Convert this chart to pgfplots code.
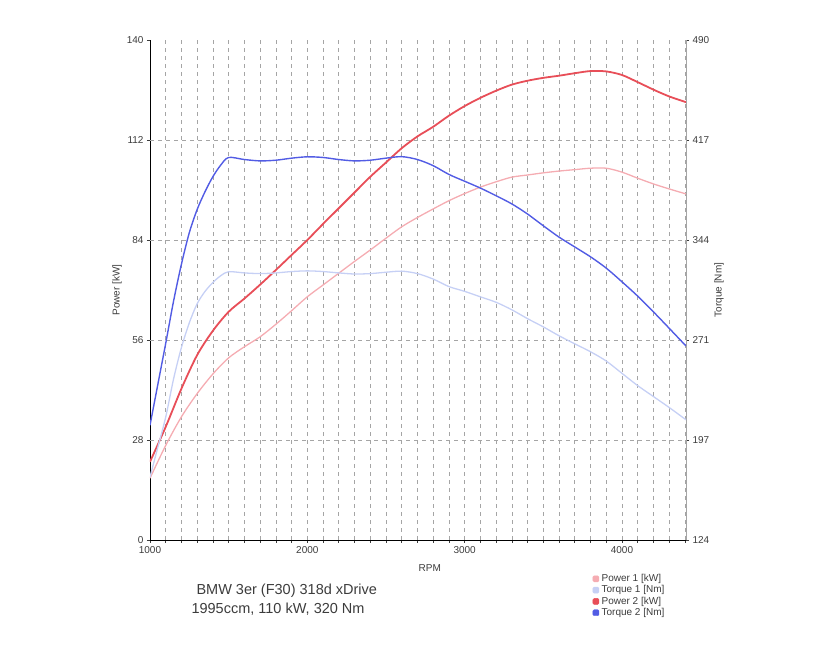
\documentclass[border=0pt]{standalone}
\usepackage{fontspec}
\setmainfont{Liberation Sans}
\usepackage{pgfplots}
\pgfplotsset{compat=1.18}
\definecolor{pone}{RGB}{245,172,178}
\definecolor{tone}{RGB}{198,208,245}
\definecolor{ptwo}{RGB}{232,78,88}
\definecolor{ttwo}{RGB}{82,92,228}
\definecolor{txt}{RGB}{60,60,60}
\definecolor{gridc}{RGB}{165,165,165}
\begin{document}
\begin{tikzpicture}
\path[use as bounding box] (-150pt,-110pt) rectangle (680pt,540pt);
\pgfplotsset{
  common/.style={
    at={(0pt,0pt)}, anchor=south west, scale only axis,
    width=536pt, height=500pt,
    xmin=1000, xmax=4407,
    /pgf/number format/assume math mode=true,
    tick label style={font=\fontsize{10}{12}\selectfont, text=txt},
    label style={font=\fontsize{10}{12}\selectfont, text=txt},
    tick align=outside, major tick length=3pt, minor tick length=3pt,
    tick style={txt, line width=0.6pt},
  }
}
\begin{axis}[common,
  ymin=0, ymax=140,
  axis y line*=left, axis x line*=bottom,
  axis line style={black, line width=0.8pt, -},
  xtick={1000,2000,3000,4000},
  minor xtick={1100,1200,...,4400},
  ytick={0,28,56,84,112,140},
  xmajorgrids, xminorgrids,
  grid style={gridc, dash pattern=on 4pt off 4pt, line width=0.6pt},
  extra y ticks={28,56,84,112},
  extra y tick labels={},
  extra y tick style={grid=major, major tick length=0pt},
  xticklabel style={/pgf/number format/1000 sep={}},
  xlabel={RPM},
  xlabel style={at={(axis description cs:0.522,-0.056)}, anchor=center},
  ylabel={Power [kW]},
  ylabel style={at={(axis description cs:-0.0616,0.5)}, anchor=center},
]
% Power 1 [kW]
\addplot[pone, line width=1.3pt, smooth] coordinates {
(1000,17.3) (1100,26.5) (1200,34.5) (1300,41.0) (1400,46.5) (1500,51.0)
(1600,54.1) (1700,56.9) (1800,60.4) (1900,64.2) (2000,68.1) (2100,71.4)
(2200,74.7) (2300,78.0) (2400,81.2) (2500,84.5) (2600,87.7) (2700,90.3)
(2800,92.7) (2900,95.0) (3000,97.0) (3100,98.8) (3200,100.3) (3300,101.6)
(3400,102.2) (3500,102.8) (3600,103.3) (3700,103.7) (3800,104.1) (3900,104.1)
(4000,103.0) (4100,101.3) (4200,99.7) (4300,98.3) (4407,96.9)
};
% Power 2 [kW]
\addplot[ptwo, line width=1.8pt, smooth] coordinates {
(1000,21.9) (1100,31.7) (1200,42.4) (1300,51.8) (1400,58.6) (1500,63.9)
(1600,67.6) (1700,71.5) (1800,75.6) (1900,79.8) (2000,84.0) (2100,88.5)
(2200,92.9) (2300,97.3) (2400,101.7) (2500,105.7) (2600,109.7) (2700,113.0)
(2800,115.7) (2900,118.8) (3000,121.5) (3100,123.8) (3200,125.8) (3300,127.5)
(3400,128.6) (3500,129.4) (3600,130.0) (3700,130.7) (3800,131.3) (3900,131.2)
(4000,130.2) (4100,128.2) (4200,126.1) (4300,124.2) (4407,122.6)
};
\end{axis}
\begin{axis}[common,
  ymin=124, ymax=490,
  axis y line*=right, axis x line=none,
  axis line style={gridc, line width=0.6pt, -},
  ytick={124,197.2,270.4,343.6,416.8,490},
  yticklabels={124,197,271,344,417,490},
  ylabel={Torque [Nm]},
  ylabel style={at={(axis description cs:1.0616,0.5)}, anchor=center},
  legend style={at={(axis description cs:0.8256,-0.066)}, anchor=north west,
    draw=none, fill=none, inner sep=0pt, column sep=2pt, row sep=0pt,
    font=\fontsize{10}{11}\selectfont, text=txt,
    nodes={inner sep=0.5pt, text height=8pt, text depth=2.3pt}},
  legend cell align=left,
  legend image code/.code={\fill[#1, rounded corners=1.2pt] (-3pt,-3pt) rectangle (3pt,3pt);},
]
\addlegendimage{pone}
\addlegendentry{Power 1 [kW]}
\addlegendimage{tone}
\addlegendentry{Torque 1 [Nm]}
\addlegendimage{ptwo}
\addlegendentry{Power 2 [kW]}
\addlegendimage{ttwo}
\addlegendentry{Torque 2 [Nm]}
% Torque 1 [Nm]
\addplot[tone, line width=1.3pt, smooth, forget plot] coordinates {
(1000,170) (1050,192) (1100,214) (1150,242) (1200,265) (1250,283) (1300,297)
(1350,306) (1400,312.5) (1450,317.5) (1500,320.4)
(1600,319.5) (1700,319) (1800,319.5) (1900,320.5) (2000,321) (2100,320.5)
(2200,319.5) (2300,318.7) (2400,319) (2500,320) (2600,320.8) (2700,319)
(2800,315) (2900,309.5) (3000,306) (3100,302) (3200,298) (3300,292.5)
(3400,286) (3500,280) (3600,273.5) (3700,267.6) (3800,261.8) (3900,255)
(4000,246) (4100,237) (4200,229) (4300,221) (4407,212)
};
% Torque 2 [Nm]
\addplot[ttwo, line width=1.4pt, smooth, forget plot] coordinates {
(1000,208) (1050,238) (1100,268) (1150,299) (1200,326) (1250,349) (1300,366)
(1350,379) (1400,390) (1450,398.5) (1500,404)
(1600,402.5) (1700,401.5) (1800,402) (1900,403.5) (2000,404.5) (2100,404)
(2200,402.5) (2300,401.5) (2400,402) (2500,403.5) (2600,404.6) (2700,402.5)
(2800,398) (2900,391.6) (3000,386.6) (3100,381.6) (3200,376) (3300,370)
(3400,362.6) (3500,354) (3600,345.7) (3700,338.5) (3800,331.3) (3900,323)
(4000,313) (4100,302.5) (4200,291) (4300,279) (4407,266)
};
\end{axis}
\node[anchor=base west, text=txt, font=\fontsize{14.5}{16}\selectfont] at (43pt,-55pt) {BMW 3er (F30) 318d xDrive};
\node[anchor=base west, text=txt, font=\fontsize{14.5}{16}\selectfont] at (38pt,-74pt) {1995ccm, 110 kW, 320 Nm};
\end{tikzpicture}
\end{document}
